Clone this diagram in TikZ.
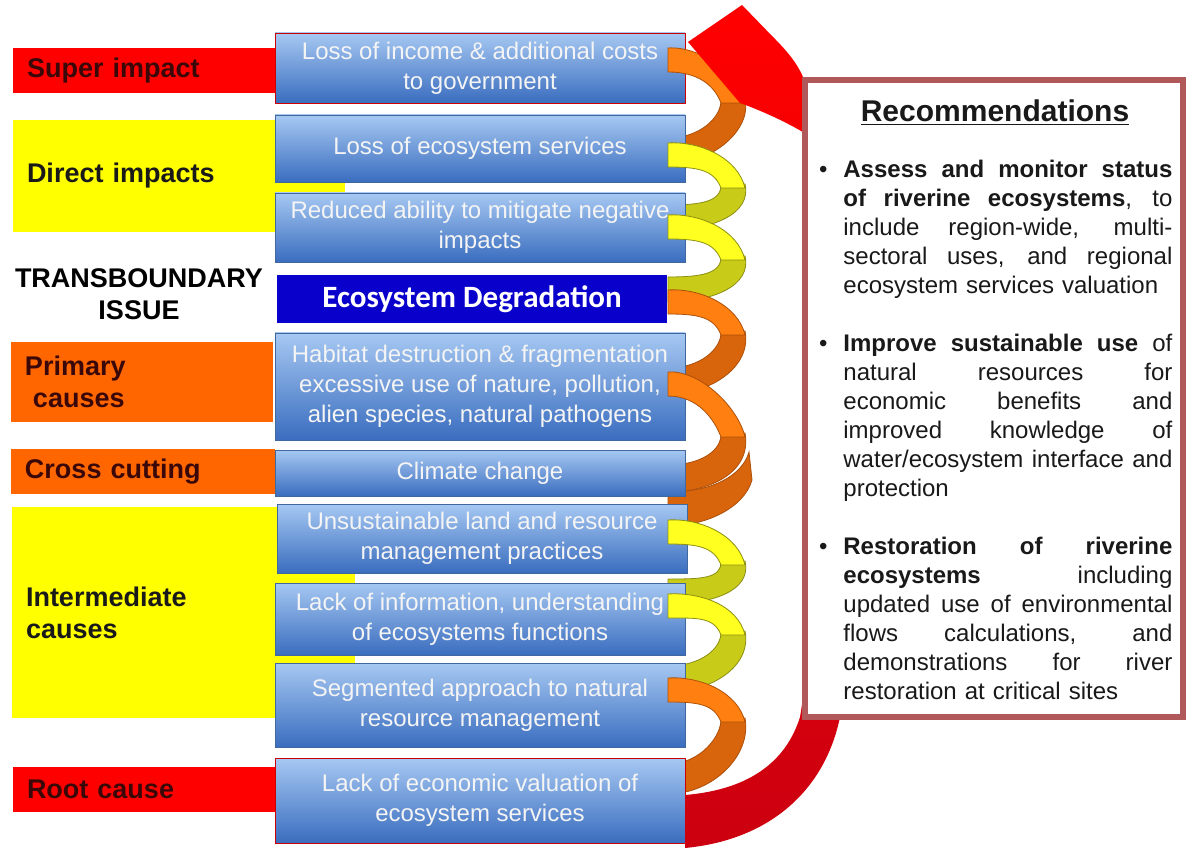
\documentclass[tikz,border=0pt]{standalone}
\usepackage{fontspec}
\setmainfont{Liberation Sans}
\newfontfamily\calibfont{Carlito}
\definecolor{tierred}{HTML}{FF0000}
\definecolor{tieryellow}{HTML}{FFFF00}
\definecolor{tierorange}{HTML}{FF6600}
\definecolor{tiertext}{HTML}{3A0808}
\definecolor{boxtop}{HTML}{A6C8F2}
\definecolor{boxmid}{HTML}{6E9FE0}
\definecolor{boxbot}{HTML}{3A6DBF}
\definecolor{boxedge}{HTML}{41679F}
\definecolor{boxtext}{HTML}{F4F4F4}
\definecolor{coreblue}{HTML}{0A00CC}
\definecolor{ribbonorange}{HTML}{FF8010}
\definecolor{ribbondark}{HTML}{D8640C}
\definecolor{ribbonyellow}{HTML}{FFFF20}
\definecolor{ribbonolive}{HTML}{C8CC18}
\definecolor{arrowred}{HTML}{FF0000}
\definecolor{arrowdark}{HTML}{CC0010}
\definecolor{recedge}{HTML}{B0585A}
\newcommand{\recline}[1]{{\spaceskip=0pt\xspaceskip=0pt\makebox[164.5pt][s]{#1}}}
\begin{document}
\begin{tikzpicture}[x=0.5pt,y=-0.5pt,
   every node/.style={inner sep=0pt},
   tier/.style={inner xsep=7pt,align=left,font=\fontsize{13.5}{16}\selectfont\bfseries,text=tiertext},
   issue/.style={draw=boxedge,thin,top color=boxtop,middle color=boxmid,bottom color=boxbot,text=boxtext,align=center,font=\fontsize{12}{15}\selectfont,minimum width=205pt},
   core/.style={fill=coreblue,text=white,font=\calibfont\fontsize{15.5}{18}\selectfont\bfseries,minimum width=195pt,minimum height=24pt},
   orangefront/.style={fill=ribbonorange,draw=ribbondark!80!black,line width=0.4pt},
   orangeback/.style={fill=ribbondark,draw=ribbondark!80!black,line width=0.4pt},
   yellowfront/.style={fill=ribbonyellow,draw=ribbonolive!70!black,line width=0.4pt},
   yellowback/.style={fill=ribbonolive,draw=ribbonolive!70!black,line width=0.4pt},
   recbox/.style={draw=recedge,line width=3pt,fill=white,minimum width=189pt,minimum height=318.5pt},
   rectext/.style={text width=164.5pt,align=left,font=\fontsize{12}{14.5}\selectfont,text=black!90}]
\useasboundingbox[fill=white] (0,0) rectangle (1186,849);
\node[tier,fill=tierred,text width=117pt,minimum height=22.5pt] (super) at (144,70.5) {Super impact};
\node[tier,fill=tieryellow,text width=152pt,minimum height=56pt,text=black!90] (direct) at (179,176) {Direct impacts};
\node[font=\fontsize{13.5}{16}\selectfont\bfseries,align=center] (transboundary) at (139,294) {TRANSBOUNDARY\\ISSUE};
\node[tier,fill=tierorange,text width=117pt,minimum height=40pt] (primary) at (142,382) {Primary\\\hspace{4pt}causes};
\node[tier,fill=tierorange,text width=118pt,minimum height=22.5pt] (crosscut) at (143,471.5) {Cross cutting};
\node[tier,fill=tieryellow,text width=157.5pt,minimum height=105.5pt,text=black!90] (intermediate) at (183.5,612.5) {Intermediate\\causes};
\node[tier,fill=tierred,text width=118pt,minimum height=22.5pt] (root) at (145,789.5) {Root cause};
\fill[orangeback] (745,99) .. controls (752,130) and (712,164) .. (668,164) -- (668,138) .. controls (700,138) and (722,117) .. (721,99) -- cycle;
\fill[yellowback] (745,184) .. controls (752,214) and (712,230) .. (668,230) -- (668,205) .. controls (700,205) and (722,202) .. (721,184) -- cycle;
\fill[yellowback] (745,256) .. controls (752,286) and (712,302) .. (668,302) -- (668,277) .. controls (700,277) and (722,274) .. (721,256) -- cycle;
\fill[orangeback] (745,331) .. controls (752,366) and (712,394) .. (668,394) -- (668,368) .. controls (700,368) and (722,349) .. (721,331) -- cycle;
\fill[orangeback] (745,433) .. controls (752,471) and (712,492) .. (668,492) -- (668,465) .. controls (700,465) and (722,451) .. (721,433) -- cycle;
\fill[orangeback] (668,492) .. controls (712,492) and (742,476) .. (749,452) -- (752,480) .. controls (744,508) and (706,526) .. (668,526) -- cycle;
\fill[yellowback] (745,561) .. controls (752,591) and (712,604) .. (668,604) -- (668,579) .. controls (700,579) and (722,579) .. (721,561) -- cycle;
\fill[yellowback] (745,631) .. controls (752,666) and (712,692) .. (668,692) -- (668,666) .. controls (700,666) and (722,649) .. (721,631) -- cycle;
\fill[orangeback] (745,718) .. controls (752,756) and (712,794) .. (668,794) -- (668,764) .. controls (700,764) and (722,736) .. (721,718) -- cycle;
\node[issue,minimum height=35pt,draw=red!80!black] (income) at (480,68) {Loss of income \& additional costs\\to government};
\node[issue,minimum height=33.5pt] (services) at (480,148.5) {Loss of ecosystem services};
\node[issue,minimum height=34.5pt] (mitigate) at (480,227.5) {Reduced ability to mitigate negative\\impacts};
\node[core] (degradation) at (472,299) {Ecosystem Degradation};
\node[issue,minimum height=53.5pt] (habitat) at (480,386.5) {Habitat destruction \& fragmentation\\excessive use of nature, pollution,\\alien species, natural pathogens};
\node[issue,minimum height=23pt] (climate) at (480,473) {Climate change};
\node[issue,minimum height=34.5pt] (landuse) at (482,538.5) {Unsustainable land and resource\\management practices};
\node[issue,minimum height=36pt] (information) at (480,619) {Lack of information, understanding\\of ecosystems functions};
\node[issue,minimum height=42pt] (segmented) at (480,705) {Segmented approach to natural\\resource management};
\node[issue,minimum height=42.5pt,draw=red!80!black] (valuation) at (480,800.5) {Lack of economic valuation of\\ecosystem services};
\fill[orangefront] (668,48) .. controls (700,46) and (738,73) .. (745,103) -- (721,103) .. controls (714,85) and (698,72) .. (668,72) -- cycle;
\fill[yellowfront] (668,143) .. controls (700,141) and (738,158) .. (745,188) -- (721,188) .. controls (714,170) and (698,167) .. (668,167) -- cycle;
\fill[yellowfront] (668,215) .. controls (700,213) and (738,230) .. (745,260) -- (721,260) .. controls (714,242) and (698,239) .. (668,239) -- cycle;
\fill[orangefront] (668,290) .. controls (700,288) and (738,305) .. (745,335) -- (721,335) .. controls (714,317) and (698,314) .. (668,314) -- cycle;
\fill[orangefront] (668,372) .. controls (700,370) and (738,407) .. (745,437) -- (721,437) .. controls (714,419) and (698,396) .. (668,396) -- cycle;
\fill[yellowfront] (668,520) .. controls (700,518) and (738,535) .. (745,565) -- (721,565) .. controls (714,547) and (698,544) .. (668,544) -- cycle;
\fill[yellowfront] (668,594) .. controls (700,592) and (738,605) .. (745,635) -- (721,635) .. controls (714,617) and (698,618) .. (668,618) -- cycle;
\fill[orangefront] (668,678) .. controls (700,676) and (738,692) .. (745,722) -- (721,722) .. controls (714,704) and (698,702) .. (668,702) -- cycle;
\shade[top color=arrowred,bottom color=arrowdark] (685,795) .. controls (745,790) and (785,765) .. (800,717) .. controls (820,600) and (830,300) .. (806,134) .. controls (790,124) and (765,112) .. (740,103) -- (688,42) -- (742,5) -- (773,37) .. controls (788,52) and (800,66) .. (806,85) .. controls (840,300) and (860,600) .. (840,717) .. controls (825,790) and (770,840) .. (685,848) -- cycle;
\node[recbox] (recbox) at (994,398.5) {};
\node[font=\fontsize{15}{18}\selectfont\bfseries,text=black!90] (rectitle) at (995,113) {\underline{Recommendations}};
\node[rectext,anchor=north west] (recbody) at (843,160) {\recline{\llap{\textbullet\hspace{8pt}}\textbf{Assess and monitor status}}\\
\recline{\textbf{of riverine ecosystems}, to}\\
\recline{include region-wide, multi-}\\
\recline{sectoral uses, and regional}\\
ecosystem services valuation\\[14.5pt]
\recline{\llap{\textbullet\hspace{8pt}}\textbf{Improve sustainable use} of}\\
\recline{natural resources for}\\
\recline{economic benefits and}\\
\recline{improved knowledge of}\\
\recline{water/ecosystem interface and}\\
protection\\[14.5pt]
\recline{\llap{\textbullet\hspace{8pt}}\textbf{Restoration of riverine}}\\
\recline{\textbf{ecosystems} including}\\
\recline{updated use of environmental}\\
\recline{flows calculations, and}\\
\recline{demonstrations for river}\\
restoration at critical sites};
\end{tikzpicture}
\end{document}
